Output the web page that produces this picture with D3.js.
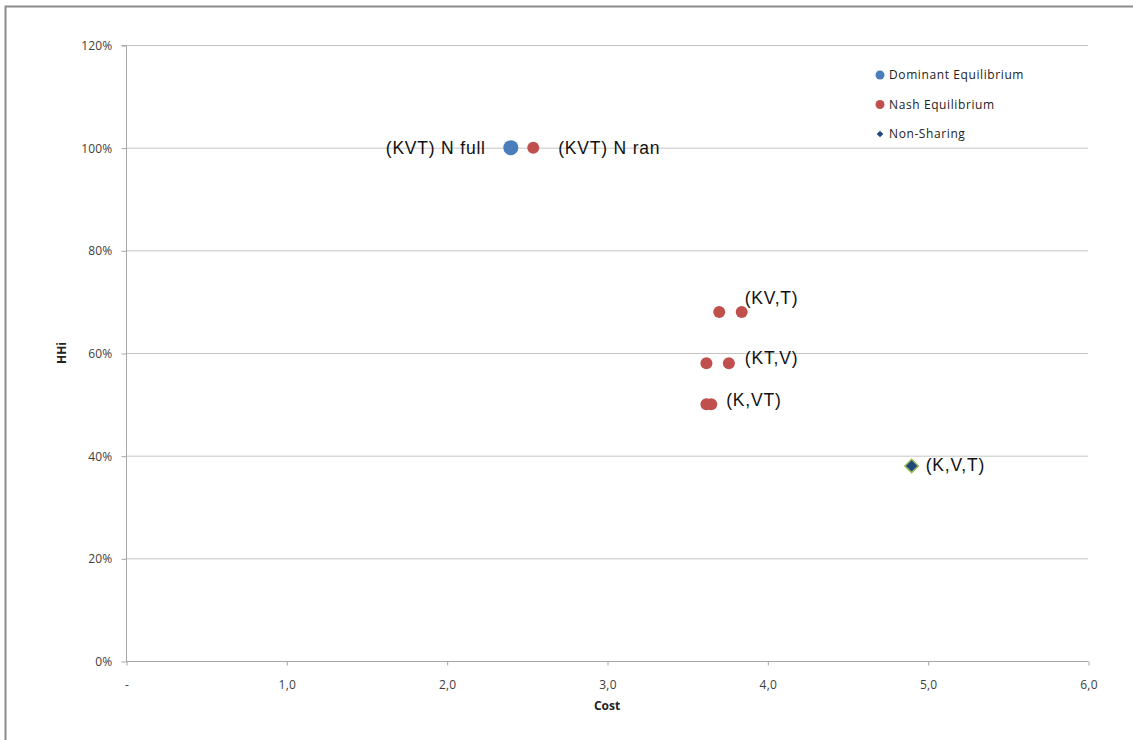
<!DOCTYPE html>
<html>
<head>
<meta charset="utf-8">
<script src="https://cdn.jsdelivr.net/npm/d3@7/dist/d3.min.js"></script>
<style>
body{margin:0;background:#fff;}
svg{display:block;}
</style>
</head>
<body>
<svg id="chart" width="1133" height="740"></svg>
<script>
// Data
const dominant = [{x:2.40, y:1.00}];
const nash = [
  {x:2.54, y:1.00},
  {x:3.70, y:0.68},
  {x:3.84, y:0.68},
  {x:3.62, y:0.58},
  {x:3.76, y:0.58},
  {x:3.62, y:0.50},
  {x:3.65, y:0.50}
];
const nonSharing = [{x:4.90, y:0.38}];
const labels = [
  {text:"(KVT) N full", x:2.40, y:1.00, anchor:"end", dx:-25, dy:0},
  {text:"(KVT) N ran", x:2.54, y:1.00, anchor:"start", dx:25, dy:0},
  {text:"(KV,T)", x:3.84, y:0.68, anchor:"start", dx:3, dy:-14},
  {text:"(KT,V)", x:3.76, y:0.58, anchor:"start", dx:16, dy:-5},
  {text:"(K,VT)", x:3.65, y:0.50, anchor:"start", dx:15, dy:-4},
  {text:"(K,V,T)", x:4.90, y:0.38, anchor:"start", dx:14, dy:-1}
];
const xTicks = [0,1,2,3,4,5,6];
const xTickLabels = ["-","1,0","2,0","3,0","4,0","5,0","6,0"];
const yTicks = [0,0.2,0.4,0.6,0.8,1.0,1.2];
const legendItems = [
  {name:"Dominant Equilibrium", color:"#4a7ebb", shape:"circle"},
  {name:"Nash Equilibrium", color:"#c0504d", shape:"circle"},
  {name:"Non-Sharing", color:"#1f497d", shape:"diamond"}
];

const uiFont = "'Open Sans', 'Liberation Sans', sans-serif";
const svg = d3.select("#chart");
// outer frame
svg.append("rect").attr("x",5.5).attr("y",6.5).attr("width",1140).attr("height",760)
  .attr("fill","none").attr("stroke","#8c8c8c").attr("stroke-width",2);

const x = d3.scaleLinear().domain([0,6]).range([126,1088]);
const y = d3.scaleLinear().domain([0,1.2]).range([661,45]);

// gridlines
svg.append("g").selectAll("line").data(yTicks.filter(d=>d>0)).join("line")
  .attr("x1",x(0)).attr("x2",x(6)).attr("y1",d=>y(d)+0.5).attr("y2",d=>y(d)+0.5)
  .attr("stroke","#c4c4c4").attr("stroke-width",1);

// y axis
const yAxis = d3.axisLeft(y).tickValues(yTicks).tickFormat(d3.format(".0%")).tickSize(5).tickPadding(9);
const gy = svg.append("g").attr("transform",`translate(${x(0)+0.5},0.5)`).call(yAxis);
gy.select(".domain").attr("stroke","#a6a6a6").attr("d",`M-5,${y(1.2)}H0V${y(0)}`);
gy.selectAll(".tick line").attr("stroke","#a6a6a6");
gy.selectAll(".tick text").attr("fill","#404040").style("font-family",uiFont).style("font-size","12px").style("letter-spacing","0.2px");

// x axis
const xAxis = d3.axisBottom(x).tickValues(xTicks).tickFormat((d,i)=>xTickLabels[i]).tickSize(4).tickPadding(15);
const gx = svg.append("g").attr("transform",`translate(0.5,${y(0)+0.5})`).call(xAxis);
gx.select(".domain").attr("stroke","#a6a6a6").attr("d",`M${x(0)},0H${x(6)}`);
gx.selectAll(".tick line").attr("stroke","#a6a6a6");
gx.selectAll(".tick text").attr("fill","#404040").style("font-family",uiFont).style("font-size","12px").style("letter-spacing","0.2px");

// axis titles
svg.append("text").attr("x",607).attr("y",710).attr("text-anchor","middle")
  .style("font-family",uiFont).style("font-size","12px").style("font-weight","bold").attr("fill","#222")
  .text("Cost");
svg.append("text").attr("transform","translate(66,353) rotate(-90)").attr("text-anchor","middle")
  .style("font-family",uiFont).style("font-size","12px").style("font-weight","bold").attr("fill","#222")
  .text("HHi");

// points
svg.append("g").selectAll("circle").data(nash).join("circle")
  .attr("cx",d=>x(d.x)).attr("cy",d=>y(d.y)).attr("r",6).attr("fill","#c0504d");
svg.append("g").selectAll("circle").data(dominant).join("circle")
  .attr("cx",d=>x(d.x)).attr("cy",d=>y(d.y)).attr("r",7.5).attr("fill","#4a7ebb");
svg.append("g").selectAll("path").data(nonSharing).join("path")
  .attr("transform",d=>`translate(${x(d.x)},${y(d.y)}) rotate(45)`)
  .attr("d",d3.symbol().type(d3.symbolSquare).size(90))
  .attr("fill","#1f497d").attr("stroke","#9bbb59").attr("stroke-width",1.5);

// data labels
svg.append("g").selectAll("text").data(labels).join("text")
  .attr("x",d=>x(d.x)+d.dx).attr("y",d=>y(d.y)+d.dy).attr("dy","0.35em")
  .attr("text-anchor",d=>d.anchor)
  .style("font-family","'Liberation Sans', Arial, sans-serif").style("font-size","17.5px").style("letter-spacing","0.8px").attr("fill","#111")
  .text(d=>d.text);

// legend
const lg = svg.append("g").attr("transform","translate(880,75)");
const li = lg.selectAll("g").data(legendItems).join("g").attr("transform",(d,i)=>`translate(0,${i*29.5})`);
li.each(function(d){
  const g = d3.select(this);
  if(d.shape==="circle") g.append("circle").attr("r",4.5).attr("fill",d.color);
  else g.append("path").attr("transform","rotate(45)").attr("d",d3.symbol().type(d3.symbolSquare).size(22)).attr("fill",d.color);
});
li.append("text").attr("x",9).attr("dy","0.35em")
  .style("font-family",uiFont).style("font-size","12px").style("letter-spacing","0.6px").attr("fill","#222")
  .text(d=>d.name);
</script>
</body>
</html>
